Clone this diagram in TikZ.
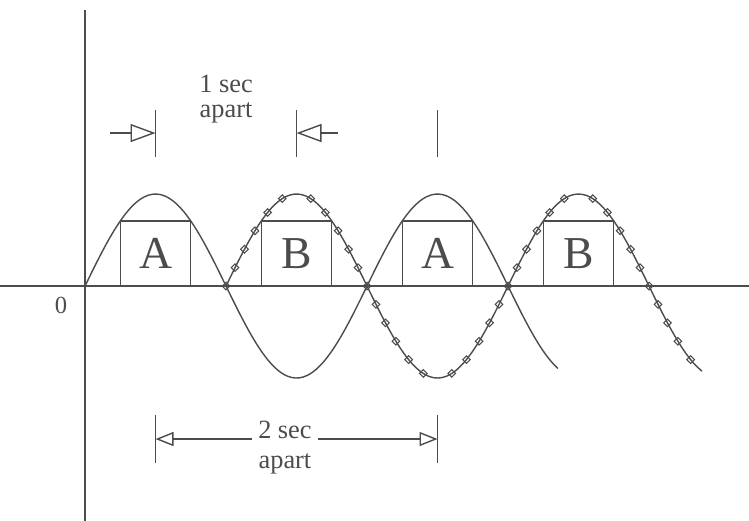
\documentclass[tikz,border=0pt]{standalone}
\usepackage{fontspec}
\setmainfont{Liberation Serif}
\usetikzlibrary{arrows.meta,shapes.geometric}
\definecolor{encre}{gray}{0.3}
\newcommand{\repere}[2]{\draw[trait] ([yshift=-#2]#1) -- ([yshift=#2]#1)}
\newcommand{\onde}[3]{\draw[trait] plot[domain=#1:#2, samples=120, smooth] (\x,{sin(180*(\x-#3))})}
\tikzset{
	trait/.style={encre, line width=0.8pt},
	boite/.style={trait, draw, inner sep=0pt, minimum width=1.41cm, minimum height=1.3cm,
		font=\fontsize{26}{30}\selectfont},
	marque/.style={encre, line width=0.6pt, draw, diamond, inner sep=0pt, minimum size=0.16cm},
	grande/.style={trait, -{Triangle[open, length=0.5cm, width=0.36cm]}},
	petite/.style={trait, -{Triangle[open, length=0.36cm, width=0.28cm]}},
	texte/.style={encre, align=center, font=\fontsize{15}{14}\selectfont}
}

\begin{document}
\begin{tikzpicture}[x=2.82cm, y=1.84cm]
	\useasboundingbox (-0.603,-2.554) rectangle (4.709,3.109);
%Axes
	\draw[trait] (-0.6,0) -- (4.709,0);
	\draw[trait] (0,3) -- (0,-2.554);
	\node[encre, font=\fontsize{14}{16}\selectfont] (zero) at (-0.17,-0.207) {0};
%The two waves
	\onde{0}{3.355}{0};
	\onde{1}{4.376}{1};
	\foreach \s in {1,2,3}
		\foreach \d [count=\k] in {0,.064,.131,.205,.295,.399,.601,.705,.795,.869,.936}
			\node[marque] (m\s-\k) at (\s+\d,{sin(180*(\s+\d-1))}) {};
	\foreach \d [count=\k] in {0,.064,.131,.205,.295}
		\node[marque] (m4-\k) at (4+\d,{sin(180*(3+\d))}) {};
%Boxes
	\node[boite] (a1) at (0.5,0.3535) {A};
	\node[boite] (b1) at (1.5,0.3535) {B};
	\node[boite] (a2) at (2.5,0.3535) {A};
	\node[boite] (b2) at (3.5,0.3535) {B};
%1 sec
	\coordinate (p1) at (0.5,1.663);
	\coordinate (p2) at (1.5,1.663);
	\coordinate (p3) at (2.5,1.663);
	\repere{p1}{0.47cm};
	\repere{p2}{0.47cm};
	\repere{p3}{0.47cm};
	\coordinate (g1) at (0.177,1.663);
	\coordinate (d1) at (1.794,1.663);
	\draw[grande] (g1) -- (p1);
	\draw[grande] (d1) -- (p2);
	\node[texte] (un) at (1.0,2.033) {1 sec\\apart};
%2 sec
	\coordinate (q1) at (0.5,-1.663);
	\coordinate (q3) at (2.5,-1.663);
	\repere{q1}{0.48cm};
	\repere{q3}{0.48cm};
	\node[texte, font=\fontsize{15}{17}\selectfont] (deux) at (1.418,-1.755) {2 sec\\apart};
	\draw[petite] (q1 -| deux.west) -- (q1);
	\draw[petite] (q1 -| deux.east) -- (q3);
\end{tikzpicture}
\end{document}
